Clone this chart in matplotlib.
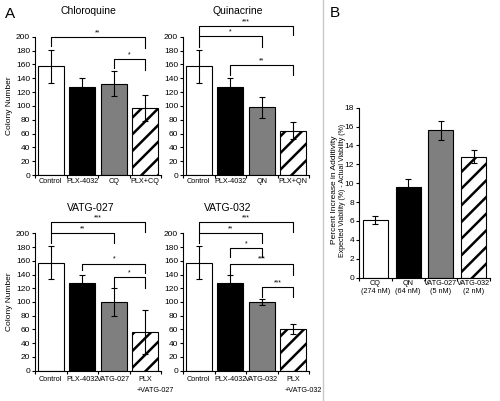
import matplotlib
matplotlib.use("Agg")
import matplotlib.pyplot as plt
from matplotlib.lines import Line2D

plt.rcParams["font.family"] = ["Liberation Sans", "DejaVu Sans"]
plt.rcParams["hatch.linewidth"] = 1.8

W, H = 500, 401

# Panel A data (colony numbers, mean and error)
titles_a = ["Chloroquine", "Quinacrine", "VATG-027", "VATG-032"]
labels_a = [
    ["Control", "PLX-4032", "CQ", "PLX+CQ"],
    ["Control", "PLX-4032", "QN", "PLX+QN"],
    ["Control", "PLX-4032", "VATG-027", "PLX"],
    ["Control", "PLX-4032", "VATG-032", "PLX"],
]
# second line under the last label of the lower panels
sublabels_a = [None, None, "+VATG-027", "+VATG-032"]
means_a = [
    [157, 127, 132, 97],
    [157, 127, 98, 64],
    [157, 127, 100, 57],
    [157, 127, 100, 61],
]
errs_a = [
    [24, 13, 18, 19],
    [24, 13, 15, 12],
    [24, 13, 21, 32],
    [24, 13, 5, 7],
]
# significance brackets: (bar1, bar2, level, left leg end, right leg end, stars)
sig_a = [
    [(0, 3, 200, 186, 184, "**"), (2, 3, 168, 155, 152, "*")],
    [(0, 3, 215, 201, 202, "***"), (0, 2, 201, 185, 185, "*"),
     (1, 3, 159, 145, 145, "**")],
    [(0, 3, 217, 200, 202, "***"), (0, 2, 200, 186, 186, "**"),
     (1, 3, 156, 147, 142, "*"), (2, 3, 137, 120, 120, "*")],
    [(0, 3, 217, 200, 202, "***"), (0, 2, 200, 186, 186, "**"),
     (1, 2, 178, 166, 166, "*"), (1, 3, 156, 140, 140, "***"),
     (2, 3, 122, 108, 108, "***")],
]

# Panel B data
labels_b = ["CQ\n(274 nM)", "QN\n(64 nM)", "VATG-027\n(5 nM)", "VATG-032\n(2 nM)"]
means_b = [6.1, 9.6, 15.6, 12.8]
errs_b = [0.4, 0.8, 1.0, 0.7]

FILLS = ["white", "black", "#7f7f7f", "white"]
HATCHES = [None, None, None, "//"]


def px_axes(fig, x0, x1, y_top, y_bot):
    return fig.add_axes([x0 / W, (H - y_bot) / H, (x1 - x0) / W, (y_bot - y_top) / H])


def style_axes(ax, xpad=2):
    for s in ("top", "right"):
        ax.spines[s].set_visible(False)
    for s in ("left", "bottom"):
        ax.spines[s].set_linewidth(0.8)
    ax.tick_params(axis="y", labelsize=6, length=2.5, width=0.8, pad=1)
    ax.tick_params(axis="x", which="major", labelsize=5.2, length=0, pad=xpad)
    ax.tick_params(axis="x", which="minor", length=2.5, width=0.8)
    ax.set_xticks([-0.5 + i for i in range(5)], minor=True)


def draw_bars(ax, means, errs, width):
    x = range(len(means))
    for i in x:
        ax.bar(i, means[i], width=width, color=FILLS[i], edgecolor="black",
               linewidth=0.8, hatch=HATCHES[i], zorder=2)
    ax.errorbar(list(x), means, yerr=errs, fmt="none", ecolor="black",
                elinewidth=0.8, capsize=2, capthick=0.8, zorder=3)


def bracket(ax, x1, x2, y, y1, y2, stars):
    ax.add_line(Line2D([x1, x1, x2, x2], [y1, y, y, y2], color="black",
                       lw=0.8, clip_on=False, zorder=4))
    ax.text((x1 + x2) / 2, y + 1, stars, ha="center", va="bottom",
            fontsize=5, clip_on=False)


fig = plt.figure(figsize=(W / 100, H / 100), dpi=100)

# panel A: 2x2 grid of bar charts
boxes = [(35, 161, 36.7, 175), (183, 309, 36.7, 175),
         (35, 161, 233.3, 370.7), (183, 309, 233.3, 370.7)]
title_pos = [(88, 11.5), (238, 11.5), (91, 208), (228, 208)]

for k in range(4):
    ax = px_axes(fig, *boxes[k])
    draw_bars(ax, means_a[k], errs_a[k], width=0.84)
    ax.set_xlim(-0.42, 3.5)
    ax.set_ylim(0, 200)
    ax.set_yticks(range(0, 201, 20))
    ax.set_xticks(range(4))
    ax.set_xticklabels(labels_a[k])
    style_axes(ax, xpad=3.5 if k >= 2 else 2)
    if k in (0, 2):
        ax.set_ylabel("Colony Number", fontsize=6, labelpad=2)
    if sublabels_a[k]:
        ax.annotate(sublabels_a[k], xy=(3, 0), xycoords=("data", "axes fraction"),
                    xytext=(-6, -12), textcoords="offset points",
                    ha="left", va="top", fontsize=5.2, annotation_clip=False)
    for b in sig_a[k]:
        bracket(ax, *b)
    tx, ty = title_pos[k]
    fig.text(tx / W, 1 - ty / H, titles_a[k], ha="center", va="center", fontsize=7.5)

fig.text(5 / W, 1 - 14 / H, "A", ha="left", va="center", fontsize=11)
fig.text(330 / W, 1 - 13 / H, "B", ha="left", va="center", fontsize=11)

# separator between panels
fig.add_artist(Line2D([322.5 / W, 322.5 / W], [0, 1], color="#c8c8c8", lw=1))

# panel B
axb = px_axes(fig, 359, 490, 107.7, 277.5)
draw_bars(axb, means_b, errs_b, width=0.77)
axb.set_xlim(-0.5, 3.5)
axb.set_ylim(0, 18)
axb.set_yticks(range(0, 19, 2))
axb.set_xticks(range(4))
axb.set_xticklabels(labels_b, linespacing=1.1)
style_axes(axb)
fig.text(334 / W, 1 - 190 / H, "Percent Increase in Additivity", rotation=90,
         ha="center", va="center", fontsize=6)
fig.text(342 / W, 1 - 190 / H, "Expected Viability (%) - Actual Viability (%)",
         rotation=90, ha="center", va="center", fontsize=5)

fig.savefig("out.png", dpi=100)
